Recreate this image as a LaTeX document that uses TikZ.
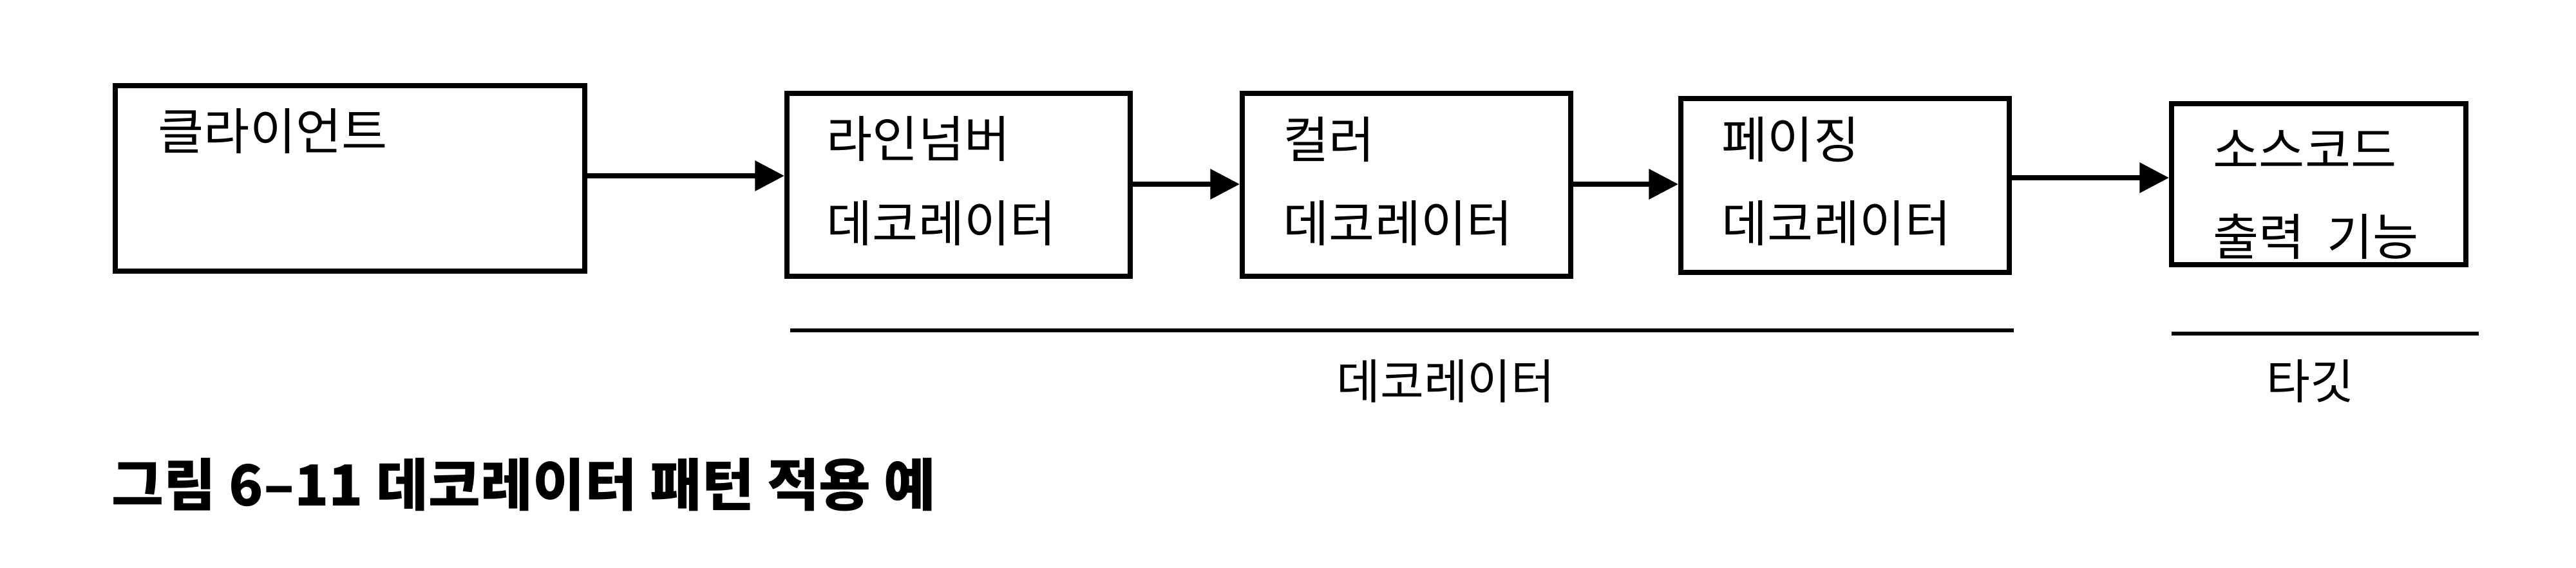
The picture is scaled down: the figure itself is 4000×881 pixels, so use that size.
\documentclass[tikz,border=0pt]{standalone}
\usepackage{fontspec}
\setmainfont{Noto Sans CJK KR}
\usetikzlibrary{arrows.meta}
\tikzset{
  box/.style={draw=black, line width=2.2pt, inner sep=0pt, fill=white},
  lbl/.style={anchor=west, inner sep=0pt, font=\fontsize{22}{26}\selectfont},
  midlbl/.style={inner sep=0pt, font=\fontsize{21}{25}\selectfont},
  arr/.style={line width=2.2pt, -{Triangle[length=13pt, width=13pt]}},
  rule/.style={line width=1.8pt, draw=black},
}
\begin{document}
\begin{tikzpicture}[x=0.01cm, y=-0.01cm]
\useasboundingbox[fill=white] (0,0) rectangle (4000,881);
% boxes
\node[box, minimum width=7.29cm, minimum height=2.88cm] (b1) at (543.5,277) {};
\node[box, minimum width=5.33cm, minimum height=2.84cm] (b2) at (1488.5,287) {};
\node[box, minimum width=5.10cm, minimum height=2.84cm] (b3) at (2184,287) {};
\node[box, minimum width=5.10cm, minimum height=2.70cm] (b4) at (2865,288) {};
\node[box, minimum width=4.57cm, minimum height=2.50cm] (b5) at (3600.5,286) {};
% texts
\node[lbl] (t1) at (245,204) {클라이언트};
\node[lbl] (t2a) at (1283,216) {라인넘버};
\node[lbl] (t2b) at (1283,347) {데코레이터};
\node[lbl] (t3a) at (1992,217) {컬러};
\node[lbl] (t3b) at (1992,347) {데코레이터};
\node[lbl] (t4a) at (2673,217) {페이징};
\node[lbl] (t4b) at (2673,347) {데코레이터};
\node[lbl] (t5a) at (3436,232) {소스코드};
\node[lbl] (t5b) at (3436,367) {출력\ \ 기능};
% arrows
\draw[arr] (b1.east |- 0,273) -- (b2.west |- 0,273);
\draw[arr] (b2.east |- 0,286) -- (b3.west |- 0,286);
\draw[arr] (b3.east |- 0,286) -- (b4.west |- 0,286);
\draw[arr] (b4.east |- 0,276) -- (b5.west |- 0,276);
% group rules
\coordinate (d1) at (1227,513);
\coordinate (d2) at (3127,513);
\coordinate (g1) at (3372,518);
\coordinate (g2) at (3849,518);
\draw[rule] (d1) -- (d2);
\draw[rule] (g1) -- (g2);
\node[midlbl] (dl) at (2245,592) {데코레이터};
\node[midlbl] (tl) at (3587,592) {타깃};
% caption
\node[anchor=west, inner sep=0pt, font=\bfseries\fontsize{25}{30}\selectfont] (cap) at (173,753) {그림 6–11 데코레이터 패턴 적용 예};
\end{tikzpicture}
\end{document}
